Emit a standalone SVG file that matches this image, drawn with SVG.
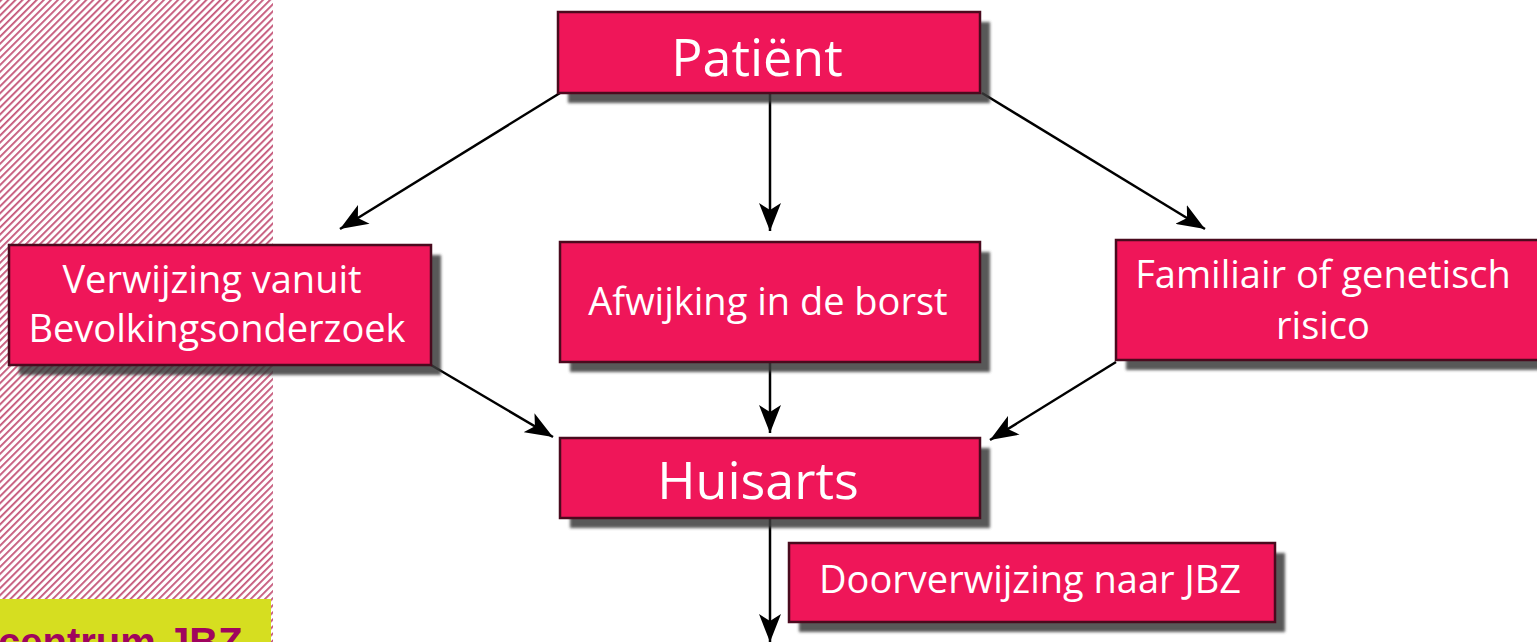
<svg xmlns="http://www.w3.org/2000/svg" width="1537" height="642" viewBox="0 0 1537 642">
<style>
.box{fill:#ef1659;stroke:#4a0a1e;stroke-width:2.5}
.sh{fill:#3a3a3a;opacity:0.85;filter:url(#blur)}
.t{font-family:"Open Sans","DejaVu Sans",sans-serif;fill:#ffffff;text-anchor:middle}
.big{font-size:52px}
.sm{font-size:38px}
.c{stroke:#000;stroke-width:2.5;fill:none;marker-end:url(#ah)}
</style>
<defs>
<pattern id="hatch" patternUnits="userSpaceOnUse" width="5" height="5" patternTransform="rotate(45)">
<rect width="5" height="5" fill="#ffffff"/>
<rect width="1.8" height="5" fill="#c45478"/>
</pattern>
<filter id="blur" x="-5%" y="-5%" width="110%" height="110%"><feGaussianBlur stdDeviation="1.5"/></filter>
<marker id="ah" markerWidth="30" markerHeight="22" refX="28" refY="11" orient="auto" markerUnits="userSpaceOnUse">
<path d="M0,0 L28,11 L0,22 L7,11 Z" fill="#000"/>
</marker>
</defs>
<rect x="0" y="0" width="1537" height="642" fill="#ffffff"/>
<rect x="0" y="0" width="273" height="642" fill="url(#hatch)"/>
<g id="label-jbz">
<rect x="0" y="599" width="271" height="43" fill="#d6de20"/>
<text x="-2" y="656" font-family="Liberation Sans,Arial,sans-serif" font-weight="bold" font-size="40" fill="#a0045e">centrum JBZ</text>
</g>
<g id="connectors">
<line class="c" x1="560" y1="93" x2="340" y2="229"/>
<line class="c" x1="770" y1="93" x2="770" y2="231"/>
<line class="c" x1="982" y1="93" x2="1205" y2="229"/>
<line class="c" x1="431" y1="365" x2="553" y2="437"/>
<line class="c" x1="770" y1="362" x2="770" y2="433"/>
<line class="c" x1="1116" y1="362" x2="990" y2="440"/>
<line class="c" x1="770" y1="518" x2="770" y2="642"/>
</g>
<g id="patient">
<rect class="sh" x="568" y="22" width="422" height="81"/>
<rect class="box" x="558" y="12" width="422" height="81"/>
<text class="t big" x="757" y="76">Patiënt</text>
</g>
<g id="verwijzing">
<rect class="sh" x="19" y="255" width="422" height="120"/>
<rect class="box" x="9" y="245" width="422" height="120"/>
<text class="t sm" x="212" y="293">Verwijzing vanuit</text>
<text class="t sm" x="217" y="342">Bevolkingsonderzoek</text>
</g>
<g id="afwijking">
<rect class="sh" x="570" y="252" width="420" height="120"/>
<rect class="box" x="560" y="242" width="420" height="120"/>
<text class="t sm" x="768" y="315">Afwijking in de borst</text>
</g>
<g id="familiair">
<rect class="sh" x="1126" y="250" width="421" height="120"/>
<rect class="box" x="1116" y="240" width="431" height="120"/>
<text class="t sm" x="1323" y="288">Familiair of genetisch</text>
<text class="t sm" x="1323" y="339">risico</text>
</g>
<g id="huisarts">
<rect class="sh" x="570" y="448" width="420" height="80"/>
<rect class="box" x="560" y="438" width="420" height="80"/>
<text class="t big" x="758" y="499">Huisarts</text>
</g>
<g id="doorverwijzing">
<rect class="sh" x="799" y="553" width="486" height="79"/>
<rect class="box" x="789" y="543" width="486" height="79"/>
<text class="t sm" x="1030" y="593">Doorverwijzing naar JBZ</text>
</g>
</svg>
